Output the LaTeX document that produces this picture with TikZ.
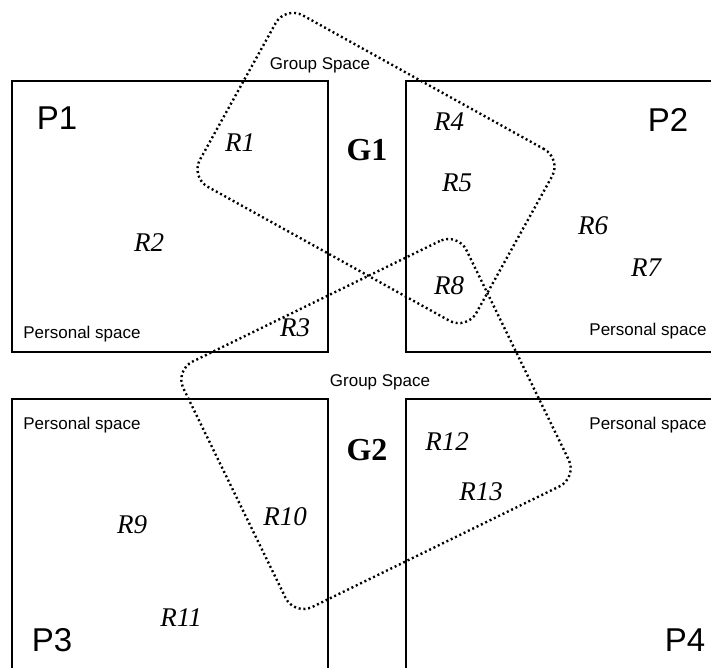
\documentclass[tikz,border=0pt]{standalone}
\usepackage{fontspec}
\setmainfont{Liberation Serif}
\setsansfont{Liberation Sans}

\begin{document}
\begin{tikzpicture}[
  x=1pt, y=-1pt,
  espacio/.style={draw, line width=1.4pt},
  grupo/.style={draw, rectangle, rounded corners=20pt, line width=2.4pt,
                dash pattern=on 2pt off 2.8pt, inner sep=0pt},
  pname/.style={font=\sffamily\fontsize{33}{36}\selectfont},
  gname/.style={font=\bfseries\fontsize{32}{34}\selectfont},
  rname/.style={font=\itshape\fontsize{27}{29}\selectfont},
  etiq/.style={font=\sffamily\fontsize{17}{19}\selectfont}
]
\path[use as bounding box, clip] (0,0) rectangle (711,668);

% Espacios personales
\draw[espacio] (12,81)  rectangle (328,352);
\draw[espacio] (406,81) rectangle (730,352);
\draw[espacio] (12,399) rectangle (328,690);
\draw[espacio] (406,399) rectangle (730,690);

% Espacios de grupo
\node[grupo, minimum width=316pt, minimum height=196pt, rotate=-29] (g1area) at (376,168) {};
\node[grupo, minimum width=315pt, minimum height=273pt, rotate=26]  (g2area) at (376,424) {};

% Personas
\node[pname] (p1) at (57,118)  {P1};
\node[pname] (p2) at (668,120) {P2};
\node[pname] (p3) at (52,640)  {P3};
\node[pname] (p4) at (685,640) {P4};

% Grupos
\node[gname] (g1) at (367,150) {G1};
\node[gname] (g2) at (367,450) {G2};

% Recursos
\node[rname] (r1)  at (240,143) {R1};
\node[rname] (r2)  at (149,243) {R2};
\node[rname] (r3)  at (295,328) {R3};
\node[rname] (r4)  at (449,122) {R4};
\node[rname] (r5)  at (457,183) {R5};
\node[rname] (r6)  at (593,226) {R6};
\node[rname] (r7)  at (646,268) {R7};
\node[rname] (r8)  at (449,286) {R8};
\node[rname] (r9)  at (132,525) {R9};
\node[rname] (r10) at (285,517) {R10};
\node[rname] (r11) at (181,618) {R11};
\node[rname] (r12) at (447,442) {R12};
\node[rname] (r13) at (481,492) {R13};

% Etiquetas
\node[etiq] (gs1) at (320,65)  {Group Space};
\node[etiq] (gs2) at (380,382) {Group Space};
\node[etiq] (ps1) at (82,334)  {Personal space};
\node[etiq] (ps2) at (648,331) {Personal space};
\node[etiq] (ps3) at (82,425)  {Personal space};
\node[etiq] (ps4) at (648,425) {Personal space};

\end{tikzpicture}
\end{document}
